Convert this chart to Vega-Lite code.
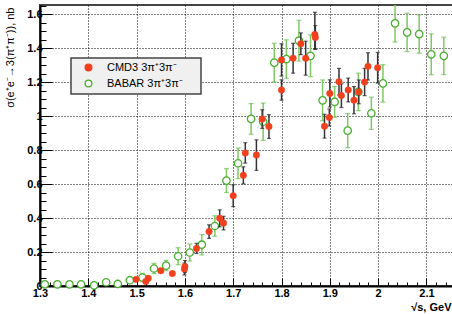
{
  "$schema": "https://vega.github.io/schema/vega-lite/v6.json",
  "width": 413,
  "height": 281,
  "autosize": {"type": "none"},
  "padding": {"left": 40, "top": 5, "right": 0, "bottom": 28},
  "background": "white",
  "config": {
    "view": {"stroke": "#444", "strokeWidth": 2},
    "font": "Liberation Sans",
    "legend": {
      "orient": "none", "legendX": 31, "legendY": 53, "direction": "vertical",
      "fillColor": "#f0f0f0", "strokeColor": "#444", "strokeWidth": 1.5,
      "padding": 4, "rowPadding": 3, "symbolOffset": 8,
      "labelFont": "Liberation Sans", "labelFontSize": 11,
      "labelColor": "black", "labelOffset": 13, "symbolSize": 45, "symbolStrokeWidth": 1.3,
      "labelLimit": 200, "titleOrient": "right", "titlePadding": 14, "titleFontSize": 11
    }
  },
  "datasets": {
    "pts": [
      {"exp": "BABAR 3π⁺3π⁻", "E": 1.310, "v": 0.010, "lo": 0.005, "hi": 0.015},
      {"exp": "BABAR 3π⁺3π⁻", "E": 1.336, "v": 0.010, "lo": 0.005, "hi": 0.015},
      {"exp": "BABAR 3π⁺3π⁻", "E": 1.361, "v": 0.010, "lo": 0.005, "hi": 0.015},
      {"exp": "BABAR 3π⁺3π⁻", "E": 1.385, "v": 0.010, "lo": 0.005, "hi": 0.015},
      {"exp": "BABAR 3π⁺3π⁻", "E": 1.412, "v": 0.004, "lo": 0.000, "hi": 0.009},
      {"exp": "BABAR 3π⁺3π⁻", "E": 1.437, "v": 0.022, "lo": 0.014, "hi": 0.030},
      {"exp": "BABAR 3π⁺3π⁻", "E": 1.461, "v": 0.012, "lo": 0.006, "hi": 0.018},
      {"exp": "BABAR 3π⁺3π⁻", "E": 1.486, "v": 0.034, "lo": 0.022, "hi": 0.046},
      {"exp": "BABAR 3π⁺3π⁻", "E": 1.512, "v": 0.050, "lo": 0.025, "hi": 0.075},
      {"exp": "BABAR 3π⁺3π⁻", "E": 1.536, "v": 0.103, "lo": 0.073, "hi": 0.133},
      {"exp": "BABAR 3π⁺3π⁻", "E": 1.561, "v": 0.120, "lo": 0.090, "hi": 0.150},
      {"exp": "BABAR 3π⁺3π⁻", "E": 1.586, "v": 0.175, "lo": 0.125, "hi": 0.225},
      {"exp": "BABAR 3π⁺3π⁻", "E": 1.610, "v": 0.197, "lo": 0.147, "hi": 0.247},
      {"exp": "BABAR 3π⁺3π⁻", "E": 1.635, "v": 0.243, "lo": 0.183, "hi": 0.303},
      {"exp": "BABAR 3π⁺3π⁻", "E": 1.662, "v": 0.353, "lo": 0.293, "hi": 0.413},
      {"exp": "BABAR 3π⁺3π⁻", "E": 1.686, "v": 0.620, "lo": 0.550, "hi": 0.690},
      {"exp": "BABAR 3π⁺3π⁻", "E": 1.710, "v": 0.722, "lo": 0.632, "hi": 0.812},
      {"exp": "BABAR 3π⁺3π⁻", "E": 1.737, "v": 0.983, "lo": 0.893, "hi": 1.073},
      {"exp": "BABAR 3π⁺3π⁻", "E": 1.762, "v": 0.966, "lo": 0.856, "hi": 1.076},
      {"exp": "BABAR 3π⁺3π⁻", "E": 1.785, "v": 1.314, "lo": 1.200, "hi": 1.428},
      {"exp": "BABAR 3π⁺3π⁻", "E": 1.810, "v": 1.335, "lo": 1.222, "hi": 1.448},
      {"exp": "BABAR 3π⁺3π⁻", "E": 1.836, "v": 1.443, "lo": 1.323, "hi": 1.563},
      {"exp": "BABAR 3π⁺3π⁻", "E": 1.860, "v": 1.354, "lo": 1.231, "hi": 1.477},
      {"exp": "BABAR 3π⁺3π⁻", "E": 1.885, "v": 1.092, "lo": 0.972, "hi": 1.212},
      {"exp": "BABAR 3π⁺3π⁻", "E": 1.910, "v": 1.083, "lo": 0.993, "hi": 1.173},
      {"exp": "BABAR 3π⁺3π⁻", "E": 1.937, "v": 0.914, "lo": 0.814, "hi": 1.014},
      {"exp": "BABAR 3π⁺3π⁻", "E": 1.959, "v": 1.142, "lo": 1.032, "hi": 1.252},
      {"exp": "BABAR 3π⁺3π⁻", "E": 1.986, "v": 1.016, "lo": 0.921, "hi": 1.111},
      {"exp": "BABAR 3π⁺3π⁻", "E": 2.010, "v": 1.192, "lo": 1.082, "hi": 1.302},
      {"exp": "BABAR 3π⁺3π⁻", "E": 2.035, "v": 1.545, "lo": 1.435, "hi": 1.655},
      {"exp": "BABAR 3π⁺3π⁻", "E": 2.060, "v": 1.492, "lo": 1.379, "hi": 1.605},
      {"exp": "BABAR 3π⁺3π⁻", "E": 2.085, "v": 1.482, "lo": 1.369, "hi": 1.595},
      {"exp": "BABAR 3π⁺3π⁻", "E": 2.110, "v": 1.363, "lo": 1.243, "hi": 1.483},
      {"exp": "BABAR 3π⁺3π⁻", "E": 2.136, "v": 1.354, "lo": 1.244, "hi": 1.464},
      {"exp": "CMD3 3π⁺3π⁻", "E": 1.499, "v": 0.039, "lo": 0.029, "hi": 0.049},
      {"exp": "CMD3 3π⁺3π⁻", "E": 1.519, "v": 0.027, "lo": 0.017, "hi": 0.037},
      {"exp": "CMD3 3π⁺3π⁻", "E": 1.524, "v": 0.045, "lo": 0.035, "hi": 0.055},
      {"exp": "CMD3 3π⁺3π⁻", "E": 1.550, "v": 0.090, "lo": 0.080, "hi": 0.100},
      {"exp": "CMD3 3π⁺3π⁻", "E": 1.574, "v": 0.073, "lo": 0.063, "hi": 0.083},
      {"exp": "CMD3 3π⁺3π⁻", "E": 1.599, "v": 0.100, "lo": 0.065, "hi": 0.135},
      {"exp": "CMD3 3π⁺3π⁻", "E": 1.600, "v": 0.115, "lo": 0.080, "hi": 0.150},
      {"exp": "CMD3 3π⁺3π⁻", "E": 1.624, "v": 0.221, "lo": 0.191, "hi": 0.251},
      {"exp": "CMD3 3π⁺3π⁻", "E": 1.650, "v": 0.320, "lo": 0.280, "hi": 0.360},
      {"exp": "CMD3 3π⁺3π⁻", "E": 1.672, "v": 0.398, "lo": 0.348, "hi": 0.448},
      {"exp": "CMD3 3π⁺3π⁻", "E": 1.680, "v": 0.370, "lo": 0.330, "hi": 0.410},
      {"exp": "CMD3 3π⁺3π⁻", "E": 1.700, "v": 0.531, "lo": 0.467, "hi": 0.595},
      {"exp": "CMD3 3π⁺3π⁻", "E": 1.721, "v": 0.651, "lo": 0.601, "hi": 0.701},
      {"exp": "CMD3 3π⁺3π⁻", "E": 1.725, "v": 0.783, "lo": 0.723, "hi": 0.843},
      {"exp": "CMD3 3π⁺3π⁻", "E": 1.748, "v": 0.770, "lo": 0.680, "hi": 0.860},
      {"exp": "CMD3 3π⁺3π⁻", "E": 1.760, "v": 0.982, "lo": 0.927, "hi": 1.037},
      {"exp": "CMD3 3π⁺3π⁻", "E": 1.774, "v": 0.938, "lo": 0.868, "hi": 1.008},
      {"exp": "CMD3 3π⁺3π⁻", "E": 1.800, "v": 1.330, "lo": 1.235, "hi": 1.425},
      {"exp": "CMD3 3π⁺3π⁻", "E": 1.800, "v": 1.153, "lo": 1.093, "hi": 1.213},
      {"exp": "CMD3 3π⁺3π⁻", "E": 1.824, "v": 1.340, "lo": 1.252, "hi": 1.428},
      {"exp": "CMD3 3π⁺3π⁻", "E": 1.840, "v": 1.425, "lo": 1.361, "hi": 1.489},
      {"exp": "CMD3 3π⁺3π⁻", "E": 1.850, "v": 1.340, "lo": 1.240, "hi": 1.440},
      {"exp": "CMD3 3π⁺3π⁻", "E": 1.869, "v": 1.480, "lo": 1.394, "hi": 1.610},
      {"exp": "CMD3 3π⁺3π⁻", "E": 1.870, "v": 1.462, "lo": 1.392, "hi": 1.532},
      {"exp": "CMD3 3π⁺3π⁻", "E": 1.889, "v": 0.940, "lo": 0.870, "hi": 1.010},
      {"exp": "CMD3 3π⁺3π⁻", "E": 1.899, "v": 0.991, "lo": 0.941, "hi": 1.041},
      {"exp": "CMD3 3π⁺3π⁻", "E": 1.900, "v": 1.133, "lo": 1.053, "hi": 1.213},
      {"exp": "CMD3 3π⁺3π⁻", "E": 1.919, "v": 1.202, "lo": 1.124, "hi": 1.280},
      {"exp": "CMD3 3π⁺3π⁻", "E": 1.924, "v": 1.120, "lo": 1.050, "hi": 1.190},
      {"exp": "CMD3 3π⁺3π⁻", "E": 1.938, "v": 1.153, "lo": 1.083, "hi": 1.223},
      {"exp": "CMD3 3π⁺3π⁻", "E": 1.950, "v": 1.093, "lo": 1.013, "hi": 1.173},
      {"exp": "CMD3 3π⁺3π⁻", "E": 1.960, "v": 1.142, "lo": 1.072, "hi": 1.212},
      {"exp": "CMD3 3π⁺3π⁻", "E": 1.972, "v": 1.200, "lo": 1.120, "hi": 1.280},
      {"exp": "CMD3 3π⁺3π⁻", "E": 1.979, "v": 1.292, "lo": 1.212, "hi": 1.372},
      {"exp": "CMD3 3π⁺3π⁻", "E": 1.999, "v": 1.284, "lo": 1.194, "hi": 1.374}
    ]
  },
  "data": {"name": "pts"},
  "encoding": {
    "x": {
      "field": "E", "type": "quantitative",
      "scale": {"domain": [1.3, 2.155], "nice": false, "zero": false},
      "axis": {
        "title": "√s, GeV",
        "titleFont": "Liberation Sans", "titleFontSize": 11, "titleFontWeight": "bold", "titleColor": "black",
        "titleAlign": "right", "titleAnchor": "end", "titleX": 411, "titleY": 24, "titleBaseline": "alphabetic",
        "values": [1.3,1.32,1.34,1.36,1.38,1.4,1.42,1.44,1.46,1.48,1.5,1.52,1.54,1.56,1.58,1.6,1.62,1.64,1.66,1.68,1.7,1.72,1.74,1.76,1.78,1.8,1.82,1.84,1.86,1.88,1.9,1.92,1.94,1.96,1.98,2,2.02,2.04,2.06,2.08,2.1,2.12,2.14],
        "format": "~g",
        "labelExpr": "abs(datum.value*10 - round(datum.value*10)) < 0.001 ? datum.label : ''",
        "labelFont": "Liberation Sans", "labelFontSize": 11, "labelFontWeight": "bold", "labelColor": "black",
        "labelPadding": 9, "labelFlush": false, "labelOverlap": false,
        "domainColor": "black", "domainWidth": 2,
        "tickColor": "black", "tickWidth": 1,
        "tickSize": {"condition": {"test": "abs(datum.value*10 - round(datum.value*10)) < 0.001", "value": -8}, "value": -4},
        "grid": true, "gridColor": "black", "gridDash": [1, 2], "gridWidth": 1,
        "gridOpacity": {"condition": {"test": "abs(datum.value*10 - round(datum.value*10)) < 0.001", "value": 1}, "value": 0}
      }
    },
    "y": {
      "field": "v", "type": "quantitative",
      "scale": {"domain": [0, 1.653], "nice": false},
      "axis": {
        "title": "σ(e⁺e⁻→3(π⁺π⁻)), nb",
        "titleFont": "Liberation Sans", "titleFontSize": 11, "titleFontWeight": "normal", "titleColor": "black",
        "titleAngle": -90, "titleAlign": "right", "titleBaseline": "top", "titleX": -36, "titleY": 2,
        "values": [0,0.05,0.1,0.15,0.2,0.25,0.3,0.35,0.4,0.45,0.5,0.55,0.6,0.65,0.7,0.75,0.8,0.85,0.9,0.95,1,1.05,1.1,1.15,1.2,1.25,1.3,1.35,1.4,1.45,1.5,1.55,1.6,1.65],
        "format": "~g",
        "labelExpr": "abs(datum.value*5 - round(datum.value*5)) < 0.001 ? datum.label : ''",
        "labelFont": "Liberation Sans", "labelFontSize": 11, "labelFontWeight": "bold", "labelColor": "black",
        "labelPadding": 10, "labelFlush": false, "labelOverlap": false,
        "domainColor": "black", "domainWidth": 2,
        "tickColor": "black", "tickWidth": 1,
        "tickSize": {"condition": {"test": "abs(datum.value*5 - round(datum.value*5)) < 0.001", "value": -12}, "value": -6},
        "grid": true, "gridColor": "black", "gridDash": [1, 2], "gridWidth": 1,
        "gridOpacity": {"condition": {"test": "abs(datum.value*5 - round(datum.value*5)) < 0.001", "value": 1}, "value": 0}
      }
    }
  },
  "layer": [
    {
      "transform": [{"filter": "datum.exp == 'BABAR 3π⁺3π⁻'"}],
      "mark": {"type": "rule", "color": "#7fc865", "strokeWidth": 1.5, "clip": true},
      "encoding": {"y": {"field": "lo", "type": "quantitative"}, "y2": {"field": "hi"}}
    },
    {
      "transform": [{"filter": "datum.exp == 'BABAR 3π⁺3π⁻'"}],
      "mark": {"type": "tick", "orient": "horizontal", "color": "#6abd4e", "size": 5, "thickness": 1.2, "clip": true},
      "encoding": {"y": {"field": "lo", "type": "quantitative"}}
    },
    {
      "transform": [{"filter": "datum.exp == 'BABAR 3π⁺3π⁻'"}],
      "mark": {"type": "tick", "orient": "horizontal", "color": "#6abd4e", "size": 5, "thickness": 1.2, "clip": true},
      "encoding": {"y": {"field": "hi", "type": "quantitative"}}
    },
    {
      "transform": [{"filter": "datum.exp == 'BABAR 3π⁺3π⁻'"}],
      "mark": {"type": "point", "shape": "circle", "size": 55, "strokeWidth": 1.3, "opacity": 1},
      "encoding": {
        "stroke": {"field": "exp", "type": "nominal", "scale": {"domain": ["CMD3 3π⁺3π⁻", "BABAR 3π⁺3π⁻"], "range": ["#f0401e", "#4aae2f"]}, "legend": {"title": " "}},
        "fill": {"field": "exp", "type": "nominal", "scale": {"domain": ["CMD3 3π⁺3π⁻", "BABAR 3π⁺3π⁻"], "range": ["#f0401e", "white"]}, "legend": {"title": " "}}
      }
    },
    {
      "transform": [{"filter": "datum.exp == 'CMD3 3π⁺3π⁻'"}],
      "mark": {"type": "rule", "color": "#333", "strokeWidth": 1.5, "clip": true},
      "encoding": {"y": {"field": "lo", "type": "quantitative"}, "y2": {"field": "hi"}}
    },
    {
      "transform": [{"filter": "datum.exp == 'CMD3 3π⁺3π⁻'"}],
      "mark": {"type": "tick", "orient": "horizontal", "color": "#222", "size": 4, "thickness": 1.2, "clip": true},
      "encoding": {"y": {"field": "lo", "type": "quantitative"}}
    },
    {
      "transform": [{"filter": "datum.exp == 'CMD3 3π⁺3π⁻'"}],
      "mark": {"type": "tick", "orient": "horizontal", "color": "#222", "size": 4, "thickness": 1.2, "clip": true},
      "encoding": {"y": {"field": "hi", "type": "quantitative"}}
    },
    {
      "transform": [{"filter": "datum.exp == 'CMD3 3π⁺3π⁻'"}],
      "mark": {"type": "point", "shape": "circle", "size": 42, "strokeWidth": 0.5, "opacity": 1},
      "encoding": {
        "stroke": {"field": "exp", "type": "nominal", "legend": {"title": " "}},
        "fill": {"field": "exp", "type": "nominal", "legend": {"title": " "}}
      }
    }
  ],
  "resolve": {"scale": {"stroke": "shared", "fill": "shared"}}
}
